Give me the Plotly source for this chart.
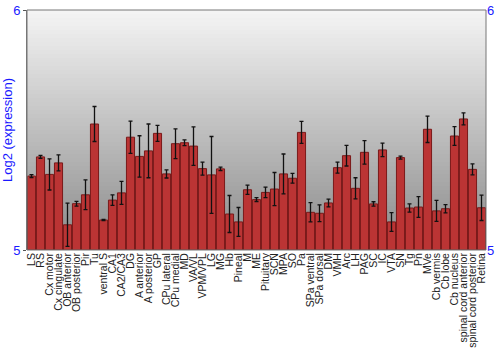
import plotly.graph_objects as go

regions = ["LS", "RS", "Cx motor", "Cx cingulate", "OB anterior", "OB posterior", "Pir", "Tu",
           "ventral S", "CA1", "CA2/CA3", "DG", "A anterior", "A posterior", "GP", "CPu lateral",
           "CPu medial", "MD", "VA/VL", "VPM/VPL", "LG", "MG", "Hb", "Pineal", "M", "ME",
           "Pituitary", "SCN", "MPA", "SO", "Pa", "SPa ventral", "SPa dorsal", "DM", "VMH", "Arc",
           "LH", "PAG", "SC", "IC", "VTA", "SN", "Tg", "Pn", "MVe", "Cb vermis", "Cb lobe",
           "Cb nucleus", "spinal cord anterior", "spinal cord posterior", "Retina"]

expression = [5.308, 5.388, 5.315, 5.363, 5.105, 5.193, 5.230, 5.525,
              5.125, 5.208, 5.238, 5.470, 5.390, 5.413, 5.486, 5.317,
              5.443, 5.447, 5.433, 5.339, 5.313, 5.338, 5.150, 5.117, 5.251, 5.210,
              5.240, 5.254, 5.317, 5.299, 5.490, 5.157, 5.153, 5.196, 5.343, 5.393,
              5.257, 5.407, 5.192, 5.417, 5.117, 5.385, 5.175, 5.179, 5.503, 5.163, 5.172,
              5.475, 5.546, 5.336, 5.176]

error = [0.006, 0.006, 0.065, 0.033, 0.090, 0.010, 0.062, 0.073,
         0.002, 0.022, 0.048, 0.067, 0.086, 0.112, 0.033, 0.017,
         0.062, 0.012, 0.080, 0.027, 0.160, 0.007, 0.077, 0.060, 0.019, 0.008,
         0.022, 0.069, 0.083, 0.020, 0.046, 0.040, 0.035, 0.016, 0.023, 0.043,
         0.044, 0.049, 0.009, 0.028, 0.039, 0.006, 0.017, 0.043, 0.055, 0.044, 0.017,
         0.039, 0.025, 0.023, 0.053]

y_min, y_max = 5, 6

fig = go.Figure()
fig.add_trace(go.Bar(
    x=regions, y=[v - y_min for v in expression], base=y_min,
    marker=dict(color="#bb3434", line=dict(color="#7a1919", width=1)),
    error_y=dict(type="data", array=error, color="#111111", thickness=1.3, width=2),
    showlegend=False,
))
# invisible trace to carry right-side axis
fig.add_trace(go.Scatter(x=[regions[0]], y=[y_min], yaxis="y2", mode="markers",
                         marker=dict(opacity=0), showlegend=False, hoverinfo="skip"))

# vertical gradient background
n = 60
top = (244, 244, 244)
bot = (138, 138, 138)
shapes = []
for i in range(n):
    t = i / (n - 1)
    c = tuple(int(round(top[k] + (bot[k] - top[k]) * t)) for k in range(3))
    shapes.append(dict(type="rect", xref="paper", yref="paper",
                       x0=0, x1=1, y0=1 - (i + 1) / n, y1=1 - i / n,
                       fillcolor="rgb(%d,%d,%d)" % c, line=dict(width=0), layer="below"))
shapes.append(dict(type="rect", xref="paper", yref="paper", x0=0, x1=1, y0=0, y1=1,
                   line=dict(color="#777777", width=1), fillcolor="rgba(0,0,0,0)"))

fig.update_layout(
    width=500, height=350,
    margin=dict(l=27, r=14, t=10, b=100),
    paper_bgcolor="white", plot_bgcolor="rgba(0,0,0,0)",
    bargap=0.1,
    shapes=shapes,
    font=dict(family="Liberation Sans, Arial, sans-serif", size=12, color="#222222"),
    xaxis=dict(tickangle=-90, tickmode="array", tickvals=regions, ticktext=regions,
               range=[-0.5, len(regions) - 0.5],
               tickfont=dict(size=10.5, color="#222222"), showgrid=False,
               ticks="", showline=False, automargin=False),
    yaxis=dict(range=[y_min, y_max], tickvals=[5, 6], showgrid=False, zeroline=False,
               ticks="outside", ticklen=3, tickcolor="#555555",
               tickfont=dict(size=13, color="#1a1aff"),
               title=dict(text="Log2 (expression)", font=dict(size=13, color="#1a1aff"), standoff=2),
               showline=True, linecolor="#777777", automargin=False),
    yaxis2=dict(range=[y_min, y_max], tickvals=[5, 6], overlaying="y", side="right",
                showgrid=False, zeroline=False, ticks="", tickfont=dict(size=13, color="#1a1aff"),
                showline=False, automargin=False),
)

fig.write_html("out.html")
